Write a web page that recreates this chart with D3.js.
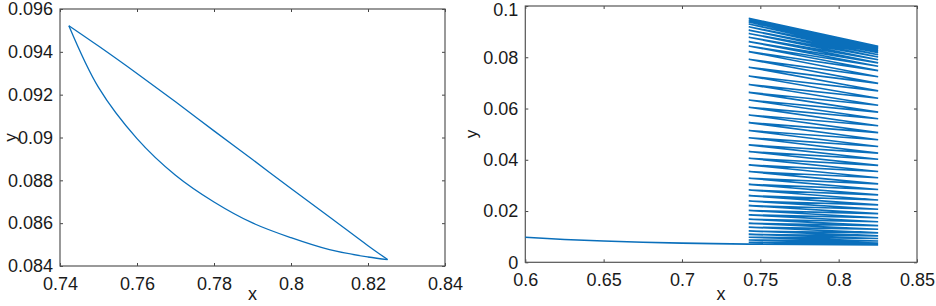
<!DOCTYPE html>
<html><head><meta charset="utf-8">
<script src="https://cdn.jsdelivr.net/npm/d3@7"></script>
<style>
body{margin:0;background:#fff;}
svg{display:block;}
.tick text{font-family:"Liberation Sans",Arial,sans-serif;font-size:18px;fill:#1a1a1a;}
.tick line{stroke:#444;}
</style></head>
<body>
<svg id="c" width="936" height="306"></svg>
<script>
// ---- Left panel: limit cycle ----
const loopUpperX = [0.8251, 0.82, 0.81, 0.80, 0.79, 0.78, 0.77, 0.76, 0.75, 0.7423];
const loopUpperY = [0.0843, 0.08495, 0.08629, 0.08762, 0.08897, 0.09031, 0.09167, 0.09299, 0.09427, 0.09522];
const loopLowerX = [0.7423, 0.75, 0.76, 0.77, 0.78, 0.79, 0.80, 0.81, 0.82, 0.8251];
const loopLowerY = [0.09522, 0.09234, 0.08995, 0.08824, 0.08699, 0.08601, 0.08532, 0.08476, 0.08442, 0.0843];
const leftXTicks = [0.74, 0.76, 0.78, 0.80, 0.82, 0.84];
const leftYTicks = [0.084, 0.086, 0.088, 0.090, 0.092, 0.094, 0.096];

// ---- Right panel: transient ----
const approachX = [0.6, 0.625, 0.65, 0.675, 0.7, 0.72, 0.7426];
const approachY = [0.00975, 0.0089, 0.0083, 0.0078, 0.0075, 0.0073, 0.0071];
const cycleLeftX = 0.7426, cycleRightX = 0.8252;
const cycleLeftY = [0.0071,0.0078,0.0087,0.0098,0.0109,0.0122,0.0137,0.0152,0.0168,0.0185,0.0202,0.0221,0.0239,0.0260,0.0282,0.0304,0.0328,0.0354,0.0380,0.0406,0.0432,0.0458,0.0486,0.0514,0.0545,0.0575,0.0605,0.0633,0.0663,0.0694,0.0727,0.0761,0.0792,0.0822,0.0844,0.0861,0.0878,0.0893,0.0906,0.0919,0.0930,0.0938,0.0943,0.0947,0.0949,0.0951,0.0952];
const cycleRightY = [0.0068,0.0075,0.0083,0.0093,0.0103,0.0115,0.0129,0.0143,0.0158,0.0174,0.0190,0.0207,0.0224,0.0243,0.0263,0.0284,0.0306,0.0330,0.0354,0.0378,0.0402,0.0426,0.0452,0.0478,0.0506,0.0533,0.0560,0.0586,0.0613,0.0640,0.0669,0.0698,0.0724,0.0748,0.0765,0.0778,0.0790,0.0801,0.0810,0.0818,0.0825,0.0831,0.0835,0.0838,0.0840,0.0842,0.0843];
const rightXTicks = [0.6, 0.65, 0.7, 0.75, 0.8, 0.85];
const rightYTicks = [0, 0.02, 0.04, 0.06, 0.08, 0.1];

const svg = d3.select("#c");
const color = "#0a6fbb";

function panel(x, y, xt, yt) {
  const [x0, x1] = x.range(), [y0, y1] = y.range();
  const g = svg.append("g");
  g.append("g").attr("transform", `translate(0,${y0})`)
    .call(d3.axisBottom(x).tickValues(xt).tickSizeInner(-3).tickSizeOuter(0).tickPadding(11).tickFormat(d3.format("~g")));
  g.append("g").attr("transform", `translate(0,${y1})`)
    .call(d3.axisTop(x).tickValues(xt).tickSizeInner(-3).tickSizeOuter(0).tickFormat(""));
  g.append("g").attr("class", "yax").attr("transform", `translate(${x0},0)`)
    .call(d3.axisLeft(y).tickValues(yt).tickSizeInner(-3).tickSizeOuter(0).tickPadding(7).tickFormat(d3.format("~g")));
  g.append("g").attr("transform", `translate(${x1},0)`)
    .call(d3.axisRight(y).tickValues(yt).tickSizeInner(-3).tickSizeOuter(0).tickFormat(""));
  g.selectAll(".domain").remove();
  g.append("rect").attr("x", x0).attr("y", y1).attr("width", x1 - x0).attr("height", y0 - y1)
    .attr("fill", "none").attr("stroke", "#555").attr("stroke-width", 1.2);
  return g;
}

// Left
const xL = d3.scaleLinear([0.74, 0.84], [60, 445]);
const yL = d3.scaleLinear([0.084, 0.096], [266, 9]);
const gL = panel(xL, yL, leftXTicks, leftYTicks);
const lineL = d3.line().x(d => xL(d[0])).y(d => yL(d[1])).curve(d3.curveCatmullRom.alpha(0.5));
gL.append("path").datum(loopLowerX.map((v, i) => [v, loopLowerY[i]]))
  .attr("d", lineL).attr("fill", "none").attr("stroke", color).attr("stroke-width", 1.3);
gL.append("path").datum(loopUpperX.map((v, i) => [v, loopUpperY[i]]))
  .attr("d", lineL).attr("fill", "none").attr("stroke", color).attr("stroke-width", 1.3);

// Right
const xR = d3.scaleLinear([0.6, 0.85], [525.3, 917]);
const yR = d3.scaleLinear([0, 0.1], [262.3, 6]);
const gR = panel(xR, yR, rightXTicks, rightYTicks);
// keep the top label "0.1" inside the frame
gR.selectAll(".yax .tick text").filter(d => d === 0.1).attr("dy", "0.5em");
const pts = approachX.map((v, i) => [v, approachY[i]]);
cycleLeftY.forEach((a, i) => {
  pts.push([cycleLeftX, a]);
  pts.push([cycleRightX, cycleRightY[i]]);
});
gR.append("path").datum(pts)
  .attr("d", d3.line().x(d => xR(d[0])).y(d => yR(d[1])))
  .attr("fill", "none").attr("stroke", color).attr("stroke-width", 1.6);

// Axis titles
const tf = '"Liberation Sans",Arial,sans-serif';
svg.append("text").attr("x", 252.5).attr("y", 300).attr("text-anchor", "middle")
  .attr("font-family", tf).attr("font-size", 18).attr("fill", "#1a1a1a").text("x");
svg.append("text").attr("x", 721).attr("y", 300).attr("text-anchor", "middle")
  .attr("font-family", tf).attr("font-size", 18).attr("fill", "#1a1a1a").text("x");
svg.append("text").attr("transform", "translate(16,137.5) rotate(-90)").attr("text-anchor", "middle")
  .attr("font-family", tf).attr("font-size", 17).attr("fill", "#1a1a1a").text("y");
svg.append("text").attr("transform", "translate(477,134) rotate(-90)").attr("text-anchor", "middle")
  .attr("font-family", tf).attr("font-size", 17).attr("fill", "#1a1a1a").text("y");
</script>
</body></html>
